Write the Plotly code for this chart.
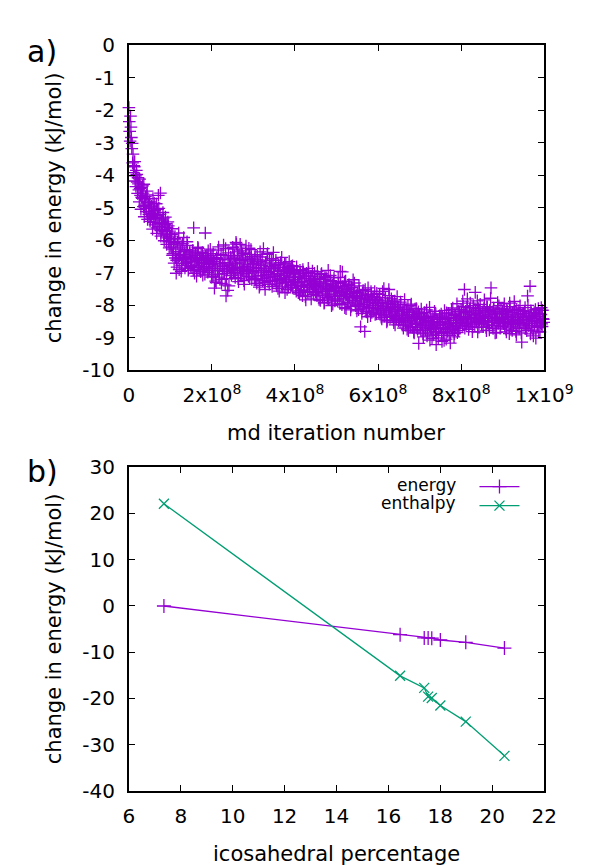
import plotly.graph_objects as go

# panel a) change in energy vs md iteration
# two interleaved sample sets, each one point every 2x10^6 iterations
md_step = 2e6
md_start_a = 0
md_start_b = 1e6
md_energy_rows_a = [
    [-1.92, -2.65, -2.18, -2.84, -3.02, -3.35, -3.71, -3.58, -4.02, -3.85, -4.21, -4.08, -4.45, -4.12, -4.62, -4.38, -4.71, -4.55, -4.28, -4.93, -4.66, -5.12, -4.49, -4.84, -5.21],
    [-4.82, -5.35, -4.95, -5.18, -4.72, -5.46, -5.08, -5.31, -4.88, -5.62, -5.25, -5.02, -5.48, -4.55, -5.71, -5.38, -5.15, -5.84, -5.52, -5.29, -5.93, -5.61, -5.44, -6.05, -5.72],
    [-5.88, -6.21, -5.65, -6.42, -6.08, -5.95, -6.55, -7.02, -6.83, -6.12, -5.78, -6.48, -6.35, -6.96, -6.18, -6.61, -5.92, -6.44, -6.72, -6.29, -6.05, -6.58, -6.87, -6.39, -6.66],
    [-6.52, -6.85, -6.31, -5.62, -7.02, -6.48, -6.63, -6.91, -6.22, -6.77, -6.58, -6.95, -6.41, -6.69, -7.08, -6.55, -6.83, -5.78, -6.71, -6.47, -6.99, -6.62, -6.88, -6.28, -6.75],
    [-6.48, -7.12, -6.65, -7.48, -6.88, -7.31, -6.57, -6.93, -6.21, -7.05, -6.72, -6.44, -7.21, -6.81, -6.15, -6.97, -7.38, -7.72, -6.86, -7.55, -6.39, -6.74, -7.02, -6.58, -6.91],
    [-6.22, -6.94, -6.48, -7.15, -6.07, -6.71, -6.36, -7.28, -6.85, -6.13, -6.62, -7.04, -6.41, -6.89, -7.36, -6.55, -6.18, -6.97, -6.76, -7.12, -6.44, -6.83, -6.29, -7.21, -6.67],
    [-6.72, -7.18, -6.45, -6.98, -7.33, -6.61, -6.87, -7.45, -6.36, -7.09, -6.78, -7.25, -6.26, -6.94, -7.52, -6.68, -7.14, -6.41, -6.99, -7.36, -6.82, -7.05, -6.57, -7.28, -6.38],
    [-6.88, -7.24, -6.62, -7.41, -7.03, -6.75, -7.57, -6.95, -7.18, -6.53, -7.32, -6.84, -7.09, -7.62, -6.71, -7.26, -6.97, -7.45, -6.66, -7.13, -6.91, -7.38, -6.79, -7.21, -7.02],
    [-7.05, -7.48, -6.82, -7.31, -7.62, -7.14, -6.93, -7.55, -7.27, -7.71, -6.98, -7.39, -7.18, -7.84, -7.02, -7.46, -6.87, -7.29, -7.58, -7.11, -7.36, -6.95, -7.67, -7.22, -7.43],
    [-7.28, -7.62, -6.97, -7.51, -7.83, -7.19, -7.44, -7.03, -7.72, -7.35, -7.94, -7.12, -7.58, -7.41, -7.77, -6.93, -7.49, -7.66, -7.25, -8.02, -7.38, -7.55, -7.16, -7.87, -7.46],
    [-7.42, -7.81, -7.15, -7.63, -7.95, -7.31, -7.57, -6.98, -7.74, -7.48, -8.08, -7.26, -7.69, -7.52, -7.91, -7.37, -7.64, -8.15, -7.45, -7.78, -7.22, -7.86, -7.59, -8.02, -7.71],
    [-7.62, -8.05, -7.41, -7.93, -8.67, -7.78, -8.12, -7.55, -7.98, -8.81, -7.69, -8.21, -7.84, -7.47, -8.09, -7.92, -8.33, -7.66, -8.01, -7.75, -8.18, -7.58, -7.96, -8.27, -7.83],
    [-7.85, -8.24, -7.67, -8.11, -8.38, -7.92, -8.05, -7.49, -8.31, -7.78, -8.16, -8.47, -7.95, -7.52, -8.22, -8.08, -7.81, -8.36, -7.99, -8.54, -7.88, -8.13, -8.42, -7.74, -8.19],
    [-8.07, -8.45, -7.91, -8.32, -8.61, -8.14, -8.38, -7.83, -8.52, -8.21, -8.74, -8.03, -8.47, -8.29, -8.66, -7.97, -8.41, -8.18, -8.83, -8.35, -8.57, -8.11, -8.69, -8.26, -9.18],
    [-8.31, -8.68, -8.12, -8.55, -8.89, -8.42, -8.23, -8.77, -8.48, -8.95, -8.36, -8.61, -8.07, -8.72, -8.52, -9.03, -8.39, -8.64, -8.19, -8.81, -9.22, -8.45, -8.58, -8.93, -8.33],
    [-8.62, -8.28, -9.12, -8.51, -8.84, -8.17, -8.69, -9.05, -8.41, -8.76, -8.25, -8.58, -9.17, -8.37, -8.71, -8.09, -8.54, -8.88, -8.32, -8.63, -7.96, -8.47, -8.79, -8.21, -8.56],
    [-8.14, -8.49, -7.88, -8.36, -7.52, -8.23, -8.61, -8.07, -8.42, -8.75, -8.18, -7.94, -8.55, -8.29, -8.68, -8.02, -8.39, -7.61, -8.51, -8.26, -8.83, -8.11, -8.45, -7.98, -8.33],
    [-8.58, -8.21, -8.47, -7.84, -8.36, -8.69, -8.05, -8.52, -8.28, -8.77, -8.15, -7.47, -8.41, -8.63, -8.09, -8.34, -8.86, -8.19, -8.48, -7.92, -8.55, -8.26, -8.71, -8.12, -8.39],
    [-8.22, -8.57, -7.96, -8.43, -8.74, -8.16, -8.51, -8.31, -8.88, -8.05, -8.46, -8.67, -8.24, -8.59, -7.89, -8.38, -8.81, -8.13, -8.49, -8.28, -8.72, -8.02, -8.55, -9.14, -8.36],
    [-8.27, -8.61, -8.08, -8.45, -8.79, -7.72, -8.33, -8.56, -7.42, -8.18, -8.68, -8.41, -8.95, -8.23, -8.52, -9.02, -8.35, -8.64, -8.11, -8.47, -8.83, -8.29, -8.58, -8.16, -8.44],
]
md_energy_rows_b = [
    [-2.35, -2.95, -2.52, -3.18, -3.62, -3.92, -3.74, -4.18, -4.35, -3.98, -4.56, -4.27, -4.82, -4.41, -5.05, -4.68, -4.33, -4.97, -5.28, -4.74, -5.02, -4.61, -5.36, -4.89, -5.14],
    [-5.42, -4.98, -5.27, -5.66, -5.11, -4.86, -5.53, -5.34, -5.79, -5.05, -4.62, -5.58, -5.21, -5.88, -5.45, -5.67, -5.32, -6.02, -5.74, -5.49, -6.13, -5.81, -5.56, -6.24, -5.95],
    [-6.14, -5.82, -6.47, -6.28, -6.71, -5.99, -6.36, -6.62, -6.05, -6.53, -6.91, -6.24, -6.45, -6.78, -6.11, -6.57, -6.33, -6.86, -6.49, -6.68, -6.16, -6.93, -6.54, -6.37, -6.81],
    [-6.67, -6.34, -6.92, -6.58, -6.79, -6.43, -7.11, -6.61, -6.26, -6.84, -6.53, -6.97, -6.72, -6.38, -6.89, -6.64, -7.05, -6.49, -6.81, -6.59, -6.33, -6.93, -6.71, -6.56, -7.14],
    [-6.83, -6.42, -7.07, -6.66, -7.26, -6.54, -6.95, -6.31, -7.14, -6.77, -6.59, -7.33, -6.88, -6.47, -7.03, -6.69, -6.26, -7.19, -6.92, -6.61, -7.41, -6.79, -6.52, -7.09, -6.84],
    [-6.56, -6.28, -6.99, -6.73, -6.12, -6.87, -7.19, -6.46, -6.68, -7.08, -6.33, -6.94, -6.59, -7.25, -6.81, -6.39, -7.02, -6.64, -6.91, -6.25, -7.16, -6.74, -6.51, -6.97, -6.86],
    [-6.93, -6.58, -7.22, -6.84, -6.49, -7.11, -6.76, -7.39, -6.65, -7.01, -6.52, -7.19, -6.89, -7.31, -6.71, -7.06, -6.44, -7.27, -6.97, -6.62, -7.14, -6.86, -7.43, -6.74, -7.08],
    [-7.12, -6.78, -7.35, -6.96, -7.49, -6.83, -7.21, -6.69, -7.08, -7.44, -6.92, -7.17, -6.74, -7.31, -7.03, -7.52, -6.87, -7.26, -6.99, -7.39, -6.81, -7.15, -7.47, -6.94, -7.29],
    [-7.22, -7.57, -6.98, -7.35, -7.13, -7.66, -7.04, -7.42, -7.28, -6.91, -7.53, -7.19, -7.74, -7.08, -7.37, -7.61, -6.99, -7.46, -7.25, -7.81, -7.12, -7.51, -7.33, -7.02, -7.59],
    [-7.39, -7.71, -7.18, -7.54, -7.29, -7.86, -7.06, -7.48, -7.63, -7.21, -7.92, -7.44, -7.15, -7.69, -7.35, -7.81, -7.52, -7.09, -7.74, -7.41, -7.97, -7.27, -7.58, -7.84, -7.49],
    [-7.55, -7.88, -7.34, -7.71, -6.96, -7.62, -7.99, -7.43, -7.81, -7.28, -7.68, -8.11, -7.51, -7.93, -7.39, -7.77, -7.58, -8.04, -7.46, -7.85, -7.64, -7.32, -7.97, -7.73, -8.18],
    [-7.79, -8.14, -7.56, -7.97, -7.71, -8.26, -7.63, -8.04, -7.88, -7.52, -8.19, -7.82, -8.36, -7.69, -8.07, -7.91, -7.58, -8.23, -7.86, -8.12, -7.74, -8.29, -7.95, -7.64, -8.09],
    [-8.02, -7.77, -8.29, -7.96, -8.43, -7.58, -8.15, -8.34, -7.87, -8.21, -8.52, -7.93, -8.11, -7.71, -8.38, -8.04, -8.27, -7.89, -8.46, -8.13, -8.61, -7.98, -8.32, -8.07, -8.49],
    [-8.19, -8.53, -7.98, -8.41, -8.27, -8.71, -8.09, -8.46, -8.62, -8.15, -8.37, -8.79, -8.23, -8.55, -8.01, -8.48, -8.68, -8.31, -8.86, -8.12, -8.59, -8.39, -8.75, -8.21, -8.52],
    [-8.44, -8.79, -8.26, -8.63, -8.98, -8.37, -8.71, -8.54, -8.15, -8.86, -8.49, -8.67, -9.08, -8.31, -8.74, -8.58, -8.92, -8.43, -8.69, -8.27, -8.83, -8.51, -9.01, -8.62, -8.39],
    [-8.53, -8.87, -8.34, -8.72, -9.09, -8.45, -8.61, -8.24, -8.81, -8.57, -8.39, -8.93, -8.66, -8.14, -8.76, -8.48, -8.98, -8.29, -8.64, -8.42, -8.85, -8.19, -8.55, -8.71, -8.36],
    [-8.27, -8.63, -8.04, -8.44, -8.71, -8.19, -8.56, -7.81, -8.37, -8.66, -8.12, -8.49, -8.31, -8.82, -8.07, -8.41, -8.61, -8.22, -8.53, -7.87, -8.46, -8.69, -8.16, -8.38, -8.58],
    [-8.33, -8.67, -8.11, -8.49, -8.24, -8.79, -8.06, -8.42, -8.61, -8.17, -7.79, -8.54, -8.29, -8.72, -8.13, -8.46, -8.38, -8.84, -8.21, -8.57, -8.02, -8.44, -8.66, -8.27, -8.51],
    [-8.41, -8.12, -8.64, -8.28, -8.83, -8.19, -8.53, -8.36, -7.94, -8.61, -8.45, -8.78, -8.23, -8.57, -8.09, -8.49, -8.92, -8.31, -8.68, -8.17, -8.54, -8.39, -8.86, -8.26, -8.62],
    [-8.46, -8.19, -8.72, -8.34, -8.57, -8.01, -8.64, -8.38, -8.89, -8.24, -8.51, -8.77, -8.31, -8.63, -8.14, -8.48, -8.69, -8.27, -8.81, -8.36, -8.55, -8.08, -8.66, -8.42, -8.53],
]
md_energy_a = [v for row in md_energy_rows_a for v in row]
md_energy_b = [v for row in md_energy_rows_b for v in row]

# panel b) energy / enthalpy vs icosahedral percentage
ico_pct = [7.35, 16.45, 17.38, 17.53, 17.67, 18.0, 18.98, 20.47]
energy = [0.0, -6.2, -6.9, -6.9, -6.95, -7.35, -7.85, -9.1]
enthalpy = [22.1, -15.1, -17.7, -19.6, -19.9, -21.5, -25.0, -32.4]

a_yticks = [0, -1, -2, -3, -4, -5, -6, -7, -8, -9, -10]
a_xticks = [0, 2e8, 4e8, 6e8, 8e8, 1e9]
a_xlabels = ["0", "2x10<sup>8</sup>", "4x10<sup>8</sup>", "6x10<sup>8</sup>", "8x10<sup>8</sup>", "1x10<sup>9</sup>"]
b_xticks = [6, 8, 10, 12, 14, 16, 18, 20, 22]
b_yticks = [30, 20, 10, 0, -10, -20, -30, -40]

PURPLE = "#9400D3"
GREEN = "#009E73"
FONT = "DejaVu Sans"
W, H = 600, 865


def px(x):
    return x / W


def py(y):
    return 1 - y / H


fig = go.Figure()

for x0, vals in [(md_start_a, md_energy_a), (md_start_b, md_energy_b)]:
    fig.add_trace(go.Scatter(
        x0=x0, dx=md_step, y=vals, mode="markers", showlegend=False,
        marker=dict(symbol="cross-thin", size=9, line=dict(color=PURPLE, width=1.3)),
        cliponaxis=False, xaxis="x", yaxis="y"))

fig.add_trace(go.Scatter(
    x=ico_pct, y=energy, mode="lines+markers", name="energy",
    line=dict(color=PURPLE, width=1.3),
    marker=dict(symbol="cross-thin", size=10, line=dict(color=PURPLE, width=1.3)),
    xaxis="x2", yaxis="y2"))
fig.add_trace(go.Scatter(
    x=ico_pct, y=enthalpy, mode="lines+markers", name="enthalpy",
    line=dict(color=GREEN, width=1.3),
    marker=dict(symbol="x-thin", size=10, line=dict(color=GREEN, width=1.3)),
    xaxis="x2", yaxis="y2"))

axis_style = dict(showgrid=False, zeroline=False, showline=True, linecolor="black",
                  linewidth=2, mirror="ticks", ticks="inside", ticklen=6, tickwidth=1,
                  tickcolor="black", tickfont=dict(family=FONT, size=20, color="black"))

xdom = [px(122), px(563)]
fig.update_layout(
    width=W, height=H, margin=dict(l=0, r=0, t=0, b=0),
    paper_bgcolor="white", plot_bgcolor="white",
    font=dict(family=FONT, size=20, color="black"),
    xaxis=dict(domain=xdom, range=[0, 1e9], anchor="y", tickmode="array",
               tickvals=a_xticks, ticktext=a_xlabels, ticklabelstandoff=6, **axis_style),
    yaxis=dict(domain=[py(360), py(26)], range=[-10, 0], anchor="x", tickmode="array",
               tickvals=a_yticks, ticktext=[str(v) for v in a_yticks],
               ticklabelstandoff=8, **axis_style),
    xaxis2=dict(domain=xdom, range=[6, 22], anchor="y2", tickmode="array",
                tickvals=b_xticks, ticktext=[str(v) for v in b_xticks],
                ticklabelstandoff=6, **axis_style),
    yaxis2=dict(domain=[py(793), py(460)], range=[-40, 30], anchor="x2", tickmode="array",
                tickvals=b_yticks, ticktext=[str(v) for v in b_yticks],
                ticklabelstandoff=8, **axis_style),
    legend=dict(x=px(489), y=py(465), xanchor="left", yanchor="top",
                bgcolor="rgba(0,0,0,0)", itemwidth=40, tracegroupgap=0,
                font=dict(family=FONT, size=12, color="rgba(0,0,0,0)")),
)

ann = [
    dict(text="a)", x=px(30), y=py(32), size=30),
    dict(text="b)", x=px(30), y=py(464), size=30),
    dict(text="md iteration number", x=px(342), y=py(425), size=21),
    dict(text="icosahedral percentage", x=px(342), y=py(858), size=21),
    dict(text="change in energy (kJ/mol)", x=px(42), y=py(193), size=21, angle=-90),
    dict(text="change in energy (kJ/mol)", x=px(42), y=py(626), size=21, angle=-90),
]
for a in ann:
    fig.add_annotation(text=a["text"], x=a["x"], y=a["y"], xref="paper", yref="paper",
                       xanchor="center", yanchor="middle", showarrow=False,
                       textangle=a.get("angle", 0),
                       font=dict(family=FONT, size=a["size"], color="black"))

# gnuplot-style key: labels sit to the left of the samples
for name, yy in [("energy", 478), ("enthalpy", 497)]:
    fig.add_annotation(text=name, x=px(472), y=py(yy), xref="paper", yref="paper",
                       xanchor="right", yanchor="middle", showarrow=False,
                       font=dict(family=FONT, size=17, color="black"))

fig.write_html("out.html")
